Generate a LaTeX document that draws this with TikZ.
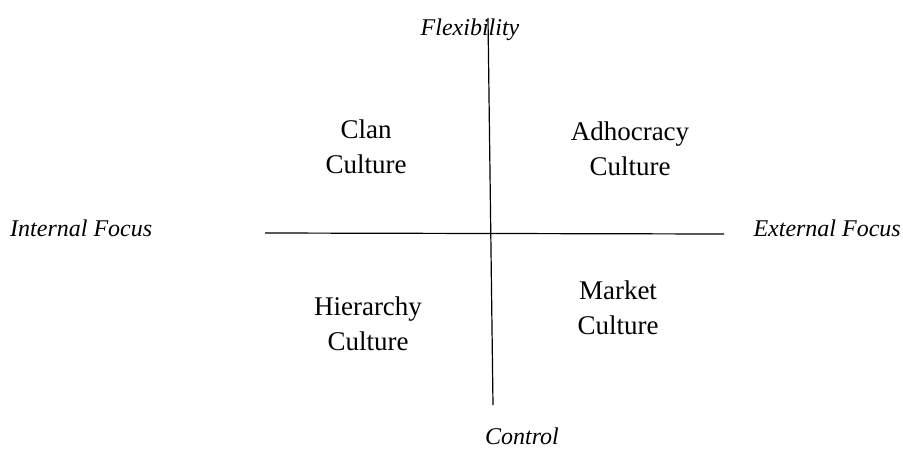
\documentclass[tikz,border=0pt]{standalone}
\usepackage{fontspec}
\setmainfont{Liberation Serif}
\begin{document}
\begin{tikzpicture}[x=1pt,y=-1pt,
  axis/.style={line width=1.2pt,black},
  pole/.style={font=\fontsize{24}{28}\selectfont\itshape,inner sep=0pt},
  quad/.style={font=\fontsize{27}{35}\selectfont,align=center,inner sep=0pt}]
\useasboundingbox (0,0) rectangle (903,448);
% axes
\coordinate (vt) at (488,18);
\coordinate (vb) at (493,405);
\coordinate (hl) at (265,233);
\coordinate (hr) at (724,234);
\draw[axis] (vt) -- (vb);
\draw[axis] (hl) -- (hr);
% pole labels
\node[pole] (flex) at (470,30) {Flexibility};
\node[pole] (ctrl) at (522,436) {Control};
\node[pole,anchor=west] (intf) at (10,228) {Internal Focus};
\node[pole,anchor=east] (extf) at (901,228) {External Focus};
% quadrant labels
\node[quad] (clan) at (366,147) {Clan\\Culture};
\node[quad] (adho) at (630,149) {Adhocracy\\Culture};
\node[quad] (hier) at (368,324) {Hierarchy\\Culture};
\node[quad] (mark) at (618,308) {Market\\Culture};
\end{tikzpicture}
\end{document}
